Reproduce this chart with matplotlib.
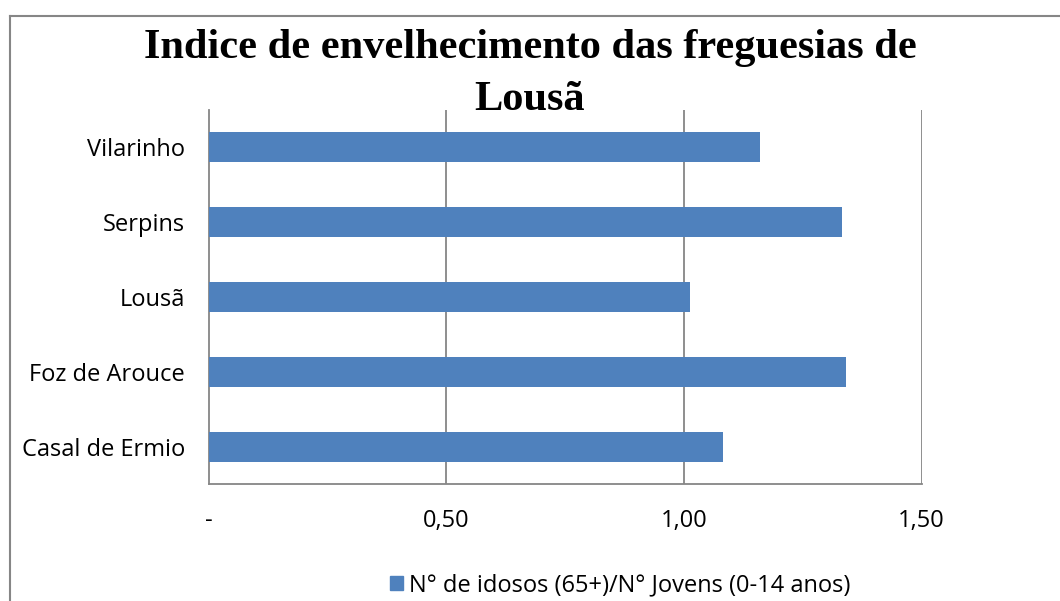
import matplotlib
matplotlib.use("Agg")
import matplotlib.pyplot as plt
from matplotlib.lines import Line2D
from matplotlib.patches import Rectangle

categories = ["Casal de Ermio", "Foz de Arouce", "Lousã", "Serpins", "Vilarinho"]
values = [1.082, 1.342, 1.012, 1.332, 1.161]
tick_vals = [0, 0.5, 1.0, 1.5]
tick_labels = ["-", "0,50", "1,00", "1,50"]
series_name = "N° de idosos (65+)/N° Jovens (0-14 anos)"
title_lines = ["Indice de envelhecimento das freguesias de", "Lousã"]

W, H = 1060, 601
fig = plt.figure(figsize=(W / 100, H / 100), dpi=100)
fig.patch.set_facecolor("white")

# axes in pixel coordinates
left, right, top, bottom = 208.5, 921.5, 110, 484
ax = fig.add_axes([left / W, 1 - bottom / H, (right - left) / W, (bottom - top) / H])

bar_color = "#4F81BD"
grid_color = "#868686"
lab_font = "Open Sans"
lab_size = 17

ypos = list(range(len(categories)))
ax.barh(ypos, values, height=0.4, color=bar_color, zorder=3)
ax.set_xlim(0, 1.5)
ax.set_ylim(-0.5, len(categories) - 0.5)

ax.set_yticks(ypos)
ax.set_yticklabels(categories, fontsize=lab_size, family=lab_font)
ax.set_xticks(tick_vals)
ax.set_xticklabels(tick_labels, fontsize=lab_size, family=lab_font)
ax.tick_params(axis="y", length=0, pad=17)
ax.tick_params(axis="x", length=0, pad=18)

for v in tick_vals[1:]:
    ax.axvline(v, color=grid_color, lw=1.3, zorder=1)
for s in ["top", "right"]:
    ax.spines[s].set_visible(False)
for s in ["left", "bottom"]:
    ax.spines[s].set_color(grid_color)
    ax.spines[s].set_linewidth(1.3)

# title (two lines placed on their baselines)
for line, base in zip(title_lines, [58, 110]):
    fig.text(530 / W, 1 - base / H, line, ha="center", va="baseline",
             family="Liberation Serif", fontweight="bold", fontsize=30.5)

# outer chart border (right and bottom are cut off)
fig.add_artist(Line2D([9.5 / W, 9.5 / W], [0, 1 - 15.5 / H], color=grid_color, lw=1.5,
                      transform=fig.transFigure))
fig.add_artist(Line2D([9.5 / W, 1], [1 - 15.5 / H, 1 - 15.5 / H], color=grid_color, lw=1.5,
                      transform=fig.transFigure))

# legend
leg_handle = Rectangle((0, 0), 1, 1, color=bar_color)
fig.legend([leg_handle], [series_name], loc="center", bbox_to_anchor=(620 / W, 1 - 585 / H),
           frameon=False, prop={"family": lab_font, "size": lab_size},
           handlelength=0.55, handleheight=0.55, handletextpad=0.25)

fig.savefig("out.png", dpi=100, facecolor="white")
